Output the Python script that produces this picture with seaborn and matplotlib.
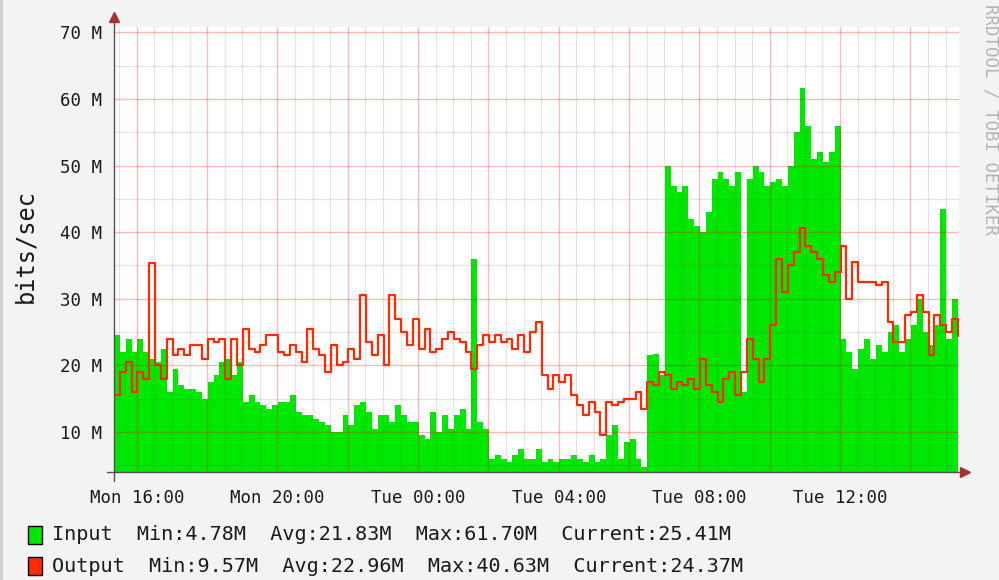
import matplotlib
matplotlib.use('Agg')
import matplotlib.pyplot as plt
import matplotlib.dates as mdates
from matplotlib.ticker import MultipleLocator, FuncFormatter
from matplotlib.patches import Rectangle
import seaborn as sns
import pandas as pd

# traffic samples, 10 minute steps, Mbit/s
start_time = "2024-01-01 15:21"   # Monday
end_time = "2024-01-02 15:23"
input_mbps = [
    24.5, 22, 24, 22, 24, 22, 21, 20.5, 22.5, 16,
    19.5, 17, 16.5, 16.5, 16, 15, 17.5, 18.5, 20.5, 21,
    18.5, 20.5, 14.5, 15.5, 14.5, 14, 13.5, 14, 14.5, 14.5,
    15.5, 13, 12.5, 12.5, 12, 11.5, 11, 10, 10, 12.5,
    11, 14, 14.5, 13, 10.5, 12.5, 12.5, 11.5, 14, 12.5,
    11.5, 11.5, 9.5, 9, 13, 10, 12.5, 10.5, 12.5, 13.5,
    10.5, 36, 11.5, 10.5, 6, 6.5, 6, 5.5, 6.5, 7.5,
    6, 6, 7.5, 5.5, 6, 5.5, 6, 6, 6.5, 6,
    5.5, 6.5, 5.5, 6, 9.5, 11, 6, 8.5, 9, 6,
    4.78, 21.5, 21.75, 18.5, 50, 47, 46, 47, 42, 41,
    40, 43, 48, 49, 48, 47, 49, 16, 48, 50,
    49, 47, 47.5, 48, 47, 50, 55, 61.7, 56, 51,
    52, 50.5, 52, 56, 24, 22, 19.5, 22.5, 24, 21,
    23, 22, 25, 26, 22, 24, 26, 30, 25, 23,
    26, 43.5, 24, 30, 25.41,
]
output_mbps = [
    15.5, 19, 20.5, 16, 19, 18, 35.3, 20, 18, 24,
    21.5, 22.5, 21.5, 23, 23, 21, 24, 23.5, 24, 18,
    24, 20, 25.5, 22.5, 22, 23, 24.5, 24.5, 22, 21.5,
    23, 22, 20.5, 25.5, 22.5, 21.5, 19, 23, 20, 20.5,
    22.5, 21, 30.5, 23.5, 21.5, 24.5, 20, 30.5, 27, 25,
    23, 27, 22.5, 25.5, 22, 22.5, 24, 25, 24, 23.5,
    22, 19.5, 23, 24.5, 23.5, 24.5, 23.5, 24, 22.5, 24.5,
    22, 25, 26.5, 18.5, 16.5, 18.5, 17.5, 18.5, 15.5, 14,
    12.5, 14.5, 13, 9.57, 14.5, 14, 14.5, 15, 15, 16,
    13.5, 17.5, 17, 19, 18.5, 16.5, 17.5, 17, 18, 16.5,
    21, 17, 16, 14.5, 18, 19, 15.5, 19, 24, 21,
    17.5, 21, 26, 36, 31, 35, 37, 40.63, 38, 37,
    36, 33.5, 32.5, 34, 38, 30, 35.5, 32.5, 32.5, 32.5,
    32, 32.5, 26.5, 23.5, 23.5, 27.5, 28, 30.5, 28, 21.5,
    27.5, 26, 25, 27, 24.37,
]
input_legend = "Input  Min:4.78M  Avg:21.83M  Max:61.70M  Current:25.41M"
output_legend = "Output  Min:9.57M  Avg:22.96M  Max:40.63M  Current:24.37M"

df = pd.DataFrame({
    "time": pd.date_range(start_time, periods=len(input_mbps), freq="10min"),
    "input": input_mbps,
    "output": output_mbps,
})

sns.set_theme(style="white")
plt.rcParams['font.family'] = ['DejaVu Sans Mono', 'DejaVu Sans']

GREEN = '#00e800'
RED = '#ff2a00'
BG = '#f3f3f3'

fig = plt.figure(figsize=(9.99, 5.8), dpi=100, facecolor=BG)
ax = fig.add_axes([114 / 999, 108 / 580, 845 / 999, 445 / 580])
ax.set_facecolor('white')

ax.fill_between(df["time"], 0, df["input"], step='post', color=GREEN, lw=0, zorder=1)
sns.lineplot(data=df, x="time", y="output", drawstyle='steps-post', color=RED,
             lw=1.6, ax=ax, zorder=3)

ax.set_xlim(pd.Timestamp(start_time), pd.Timestamp(end_time))
ax.set_ylim(4.0, 70.8)

# grid like rrdtool: red majors, grey minors
ax.xaxis.set_major_locator(mdates.HourLocator(byhour=range(0, 24, 2)))
ax.xaxis.set_minor_locator(mdates.MinuteLocator(byminute=[0, 30]))

def xfmt(v, pos):
    d = mdates.num2date(v)
    return d.strftime('%a %H:%M') if d.hour % 4 == 0 else ''

ax.xaxis.set_major_formatter(FuncFormatter(xfmt))
ax.yaxis.set_major_locator(MultipleLocator(10))
ax.yaxis.set_minor_locator(MultipleLocator(5))
ax.yaxis.set_major_formatter(FuncFormatter(lambda v, p: f"{v:.0f} M"))

ax.set_axisbelow(False)
ax.grid(which='major', color='#ff0000', alpha=0.27, lw=1)
ax.grid(which='minor', color='#707070', alpha=0.17, lw=1)

ax.tick_params(axis='x', which='major', length=3, width=1, color='#f5a0a0',
               pad=9, labelsize=12.5, labelcolor='#1a1a1a')
ax.tick_params(axis='y', which='major', length=2, width=1, color='#f5a0a0',
               pad=7, labelsize=12.5, labelcolor='#1a1a1a')
ax.tick_params(which='minor', length=0)

ax.set_xlabel('')
ax.set_ylabel('')
for s in ax.spines.values():
    s.set_visible(False)

# axes with arrows
ax.plot([0, 0], [-0.02, 1.02], color='#505050', lw=1, transform=ax.transAxes, clip_on=False, zorder=4)
ax.plot([-0.008, 1.003], [0, 0], color='#505050', lw=1, transform=ax.transAxes, clip_on=False, zorder=4)
ax.plot([0], [1.022], marker='^', ms=7, color='#a83232', transform=ax.transAxes, clip_on=False, zorder=5)
ax.plot([1.007], [0], marker='>', ms=7, color='#a83232', transform=ax.transAxes, clip_on=False, zorder=5)

fig.text(25 / 999, 1 - 246 / 580, 'bits/sec', rotation=90, ha='center', va='center',
         fontsize=17, color='#1a1a1a')
fig.text(990 / 999, 1 - 120 / 580, 'RRDTOOL / TOBI OETIKER', rotation=270, ha='center',
         va='center', fontsize=12.5, color='#b4b4b4')

# legend rows
for y_top, colour, label in [(526, GREEN, input_legend), (557, RED, output_legend)]:
    fig.patches.append(Rectangle((28 / 999, 1 - (y_top + 18) / 580), 14 / 999, 18 / 580,
                                 transform=fig.transFigure, facecolor=colour,
                                 edgecolor='black', lw=1))
    fig.text(52 / 999, 1 - (y_top + 9) / 580, label, ha='left', va='center',
             fontsize=14.5, color='#1a1a1a')

fig.patches.append(Rectangle((0, 0), 2.5 / 999, 1, transform=fig.transFigure,
                             facecolor='#cfcfcf', lw=0))

fig.savefig('out.png', dpi=100, facecolor=BG)
